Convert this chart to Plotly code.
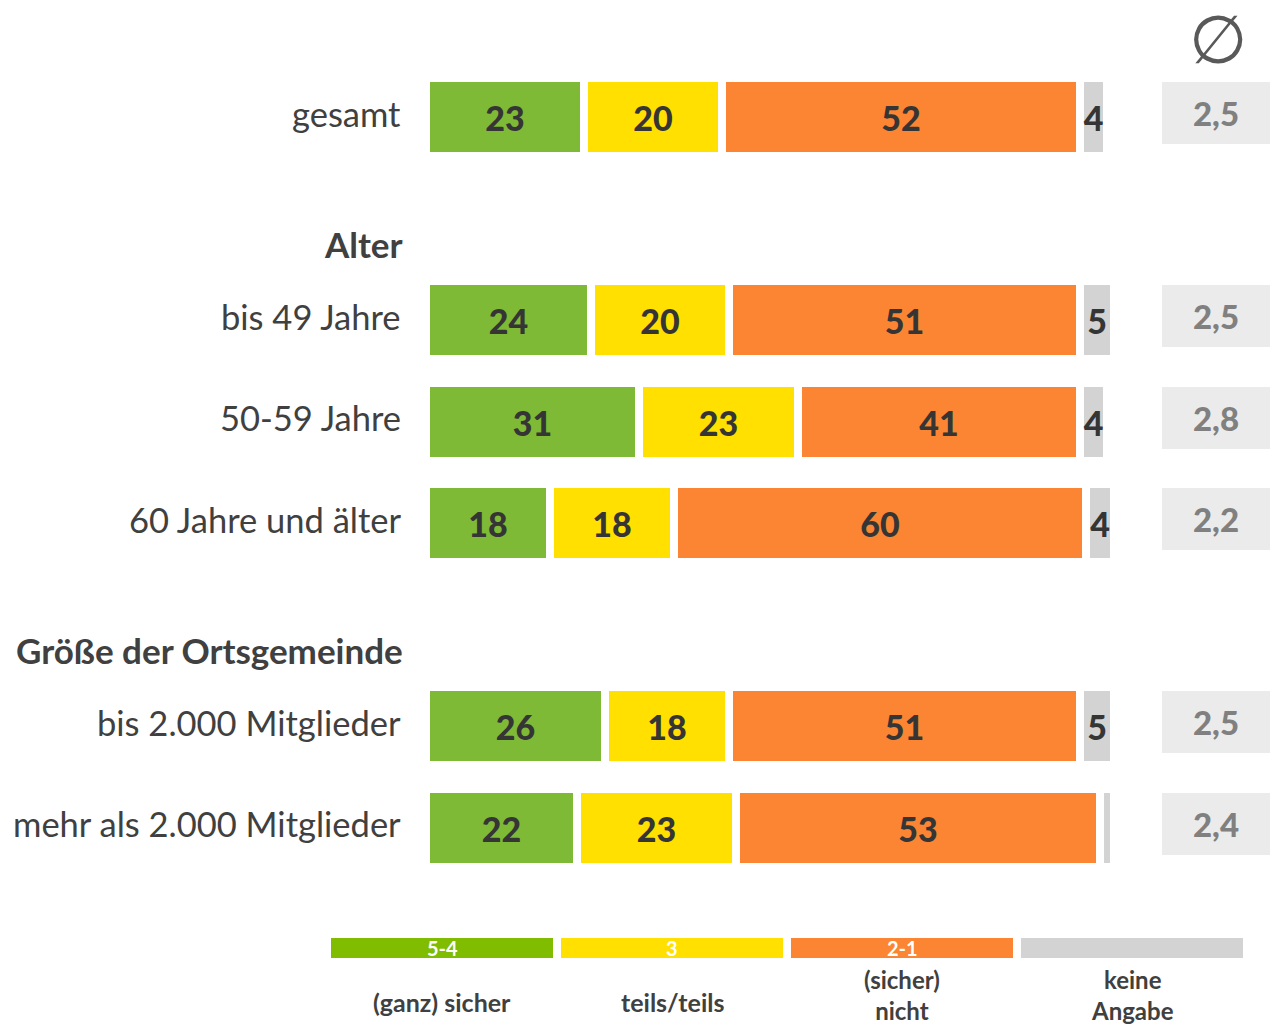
import plotly.graph_objects as go

# ---------------- data ----------------
categories = ["gesamt", "bis 49 Jahre", "50-59 Jahre", "60 Jahre und älter",
              "bis 2.000 Mitglieder", "mehr als 2.000 Mitglieder"]
groups = ["", "Alter", "Alter", "Alter",
          "Größe der Ortsgemeinde", "Größe der Ortsgemeinde"]
sicher = [23, 24, 31, 18, 26, 22]
teils = [20, 20, 23, 18, 18, 23]
nicht = [52, 51, 41, 60, 51, 53]
keine = [4, 5, 4, 4, 5, 2]
avg_labels = ["2,5", "2,5", "2,8", "2,2", "2,5", "2,4"]
series_names = ["(ganz) sicher", "teils/teils", "(sicher) nicht", "keine Angabe"]
legend_codes = ["5-4", "3", "2-1", ""]
legend_labels = ["(ganz) sicher", "teils/teils", "(sicher)<br>nicht", "keine<br>Angabe"]

# ---------------- style ----------------
W, H = 1270, 1028
colors = ["#7fba36", "#ffe000", "#fb8532", "#d3d3d3"]
legend_colors = ["#80bc00", "#ffe000", "#fb8532", "#d3d3d3"]
TXT = "#353535"
FONT = "Lato"
PX_UNIT = 101.5     # pixels per y unit
Y0 = 117            # pixel center of first row
X0 = 426            # pixel of 0 %
PX_PCT = 6.88       # pixels per percent
GAP = 8

# row positions from the group structure
ypos, headers = [], []
y, prev = 0, None
for i, g in enumerate(groups):
    if i > 0:
        y += 2 if g != prev else 1
    if g and g != prev:
        headers.append((g, y - 0.75))
    ypos.append(y)
    prev = g

bar_w = (70 + GAP) / PX_UNIT

fig = go.Figure()
for name, vals, col in zip(series_names, [sicher, teils, nicht, keine], colors):
    fig.add_trace(go.Bar(
        y=ypos, x=vals, orientation="h", name=name,
        marker=dict(color=col, line=dict(color="white", width=GAP)),
        width=bar_w,
        text=[str(v) if v >= 3 else "" for v in vals],
        textposition="inside", insidetextanchor="middle", constraintext="none",
        textfont=dict(family=FONT, size=34, color=TXT, weight=900),
        hoverinfo="skip", showlegend=False,
    ))

# average column
box_h = 62 / PX_UNIT
fig.add_trace(go.Bar(
    y=ypos, x=[1] * len(ypos), orientation="h", xaxis="x2", yaxis="y",
    marker=dict(color="#ebebeb", line=dict(width=0)),
    width=box_h, offset=-70 / PX_UNIT / 2,
    text=avg_labels, textposition="inside", insidetextanchor="middle",
    constraintext="none",
    textfont=dict(family=FONT, size=33, color="#808080", weight=900),
    hoverinfo="skip", showlegend=False,
))

annotations = []
for cat, yy in zip(categories, ypos):
    annotations.append(dict(x=403 / W, xref="paper", y=yy, yref="y", text=cat,
                            xanchor="right", yanchor="middle", showarrow=False,
                            yshift=4,
                            font=dict(family=FONT, size=34.5, color="#404040")))
for g, yy in headers:
    annotations.append(dict(x=405 / W, xref="paper", y=yy, yref="y", text=g,
                            xanchor="right", yanchor="middle", showarrow=False,
                            font=dict(family=FONT, size=35, color="#404040", weight="bold")))

# diameter symbol
annotations.append(dict(x=1218 / W, xref="paper", y=1 - 40 / H, yref="paper", text="∅",
                        showarrow=False, xanchor="center", yanchor="middle",
                        font=dict(family="DejaVu Sans", size=67, color="#595959")))

# legend
shapes = []
lx0, lw = 331, 222
for i, (code, lab, col) in enumerate(zip(legend_codes, legend_labels, legend_colors)):
    x0 = lx0 + i * (lw + GAP)
    x1 = x0 + lw
    shapes.append(dict(type="rect", xref="paper", yref="paper",
                       x0=x0 / W, x1=x1 / W, y0=1 - 958 / H, y1=1 - 938 / H,
                       fillcolor=col, line=dict(width=0), layer="above"))
    cx = (x0 + x1) / 2 / W
    if code:
        annotations.append(dict(x=cx, xref="paper", y=1 - 948 / H, yref="paper", text=code,
                                showarrow=False, xanchor="center", yanchor="middle",
                                font=dict(family=FONT, size=20, color="white", weight="bold")))
    two_lines = "<br>" in lab
    annotations.append(dict(x=cx, xref="paper", y=1 - (995 if two_lines else 1002) / H,
                            yref="paper", text=lab,
                            showarrow=False, xanchor="center", yanchor="middle",
                            font=dict(family=FONT, size=24 if two_lines else 25,
                                      color="#404040", weight="bold")))

fig.update_layout(
    width=W, height=H, margin=dict(l=0, r=0, t=0, b=0, pad=0),
    paper_bgcolor="white", plot_bgcolor="rgba(0,0,0,0)",
    barmode="stack", bargap=0,
    xaxis=dict(range=[-X0 / PX_PCT, (W - X0) / PX_PCT], domain=[0, 1], visible=False,
               fixedrange=True),
    xaxis2=dict(range=[0, 1], domain=[1162 / W, 1], anchor="y", visible=False,
                fixedrange=True),
    yaxis=dict(range=[(H - Y0) / PX_UNIT, -Y0 / PX_UNIT], domain=[0, 1], visible=False,
               fixedrange=True),
    annotations=annotations, shapes=shapes,
    font=dict(family=FONT),
)

fig.write_html("out.html", config={"displayModeBar": False},
               post_script="document.body.style.margin='0';document.body.style.overflow='hidden';")
